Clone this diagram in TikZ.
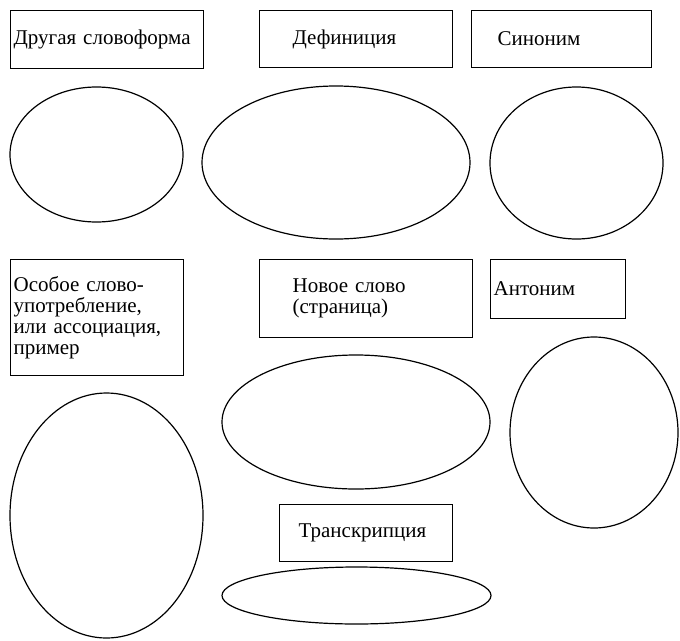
\documentclass[tikz,border=0pt]{standalone}
\usepackage{fontspec}
\setmainfont{Liberation Serif}
\usetikzlibrary{shapes.geometric}
\tikzset{
  box/.style={draw, line width=1.2pt, rectangle, anchor=north west, align=left,
    inner ysep=0pt, font=\fontsize{21}{21.2}\selectfont},
  ell/.style={draw, line width=1.2pt, ellipse, inner sep=0pt}
}
\begin{document}
\begin{tikzpicture}[x=1pt,y=-1pt]
\useasboundingbox (0,0) rectangle (680,640);
% top row boxes
\node[box, minimum height=58, text width=187, inner xsep=3] (b1) at (10,10) {Другая словоформа};
\node[box, minimum height=57, text width=127, inner xsep=33] (b2) at (259,10) {Дефиниция};
\node[box, minimum height=57, text width=128, inner xsep=26] (b3) at (471,10) {Синоним};
% top row ellipses
\node[ell, minimum width=173, minimum height=135] (e1) at (96.5,154.5) {};
\node[ell, minimum width=268, minimum height=153] (e2) at (336,162.5) {};
\node[ell, minimum width=173, minimum height=152] (e3) at (576.5,163) {};
% second row boxes
\node[box, minimum height=116, text width=167, inner xsep=3] (b4) at (10,259) {Особое слово-\\употребление,\\или ассоциация,\\пример};
\node[box, minimum height=78, text width=147, inner xsep=33] (b5) at (259,259) {Новое слово\\(страница)};
\node[box, minimum height=59, text width=129, inner xsep=3] (b6) at (490,259) {Антоним\\[4pt]};
% second row ellipses
\node[ell, minimum width=193, minimum height=245] (e4) at (106.5,515.5) {};
\node[ell, minimum width=268, minimum height=134] (e5) at (356,422) {};
\node[ell, minimum width=168, minimum height=191] (e6) at (594,432.5) {};
% transcription
\node[box, minimum height=57, text width=135, inner xsep=19] (b7) at (279,504) {Транскрипция};
\node[ell, minimum width=269, minimum height=57] (e7) at (356.5,595.5) {};
\end{tikzpicture}
\end{document}
